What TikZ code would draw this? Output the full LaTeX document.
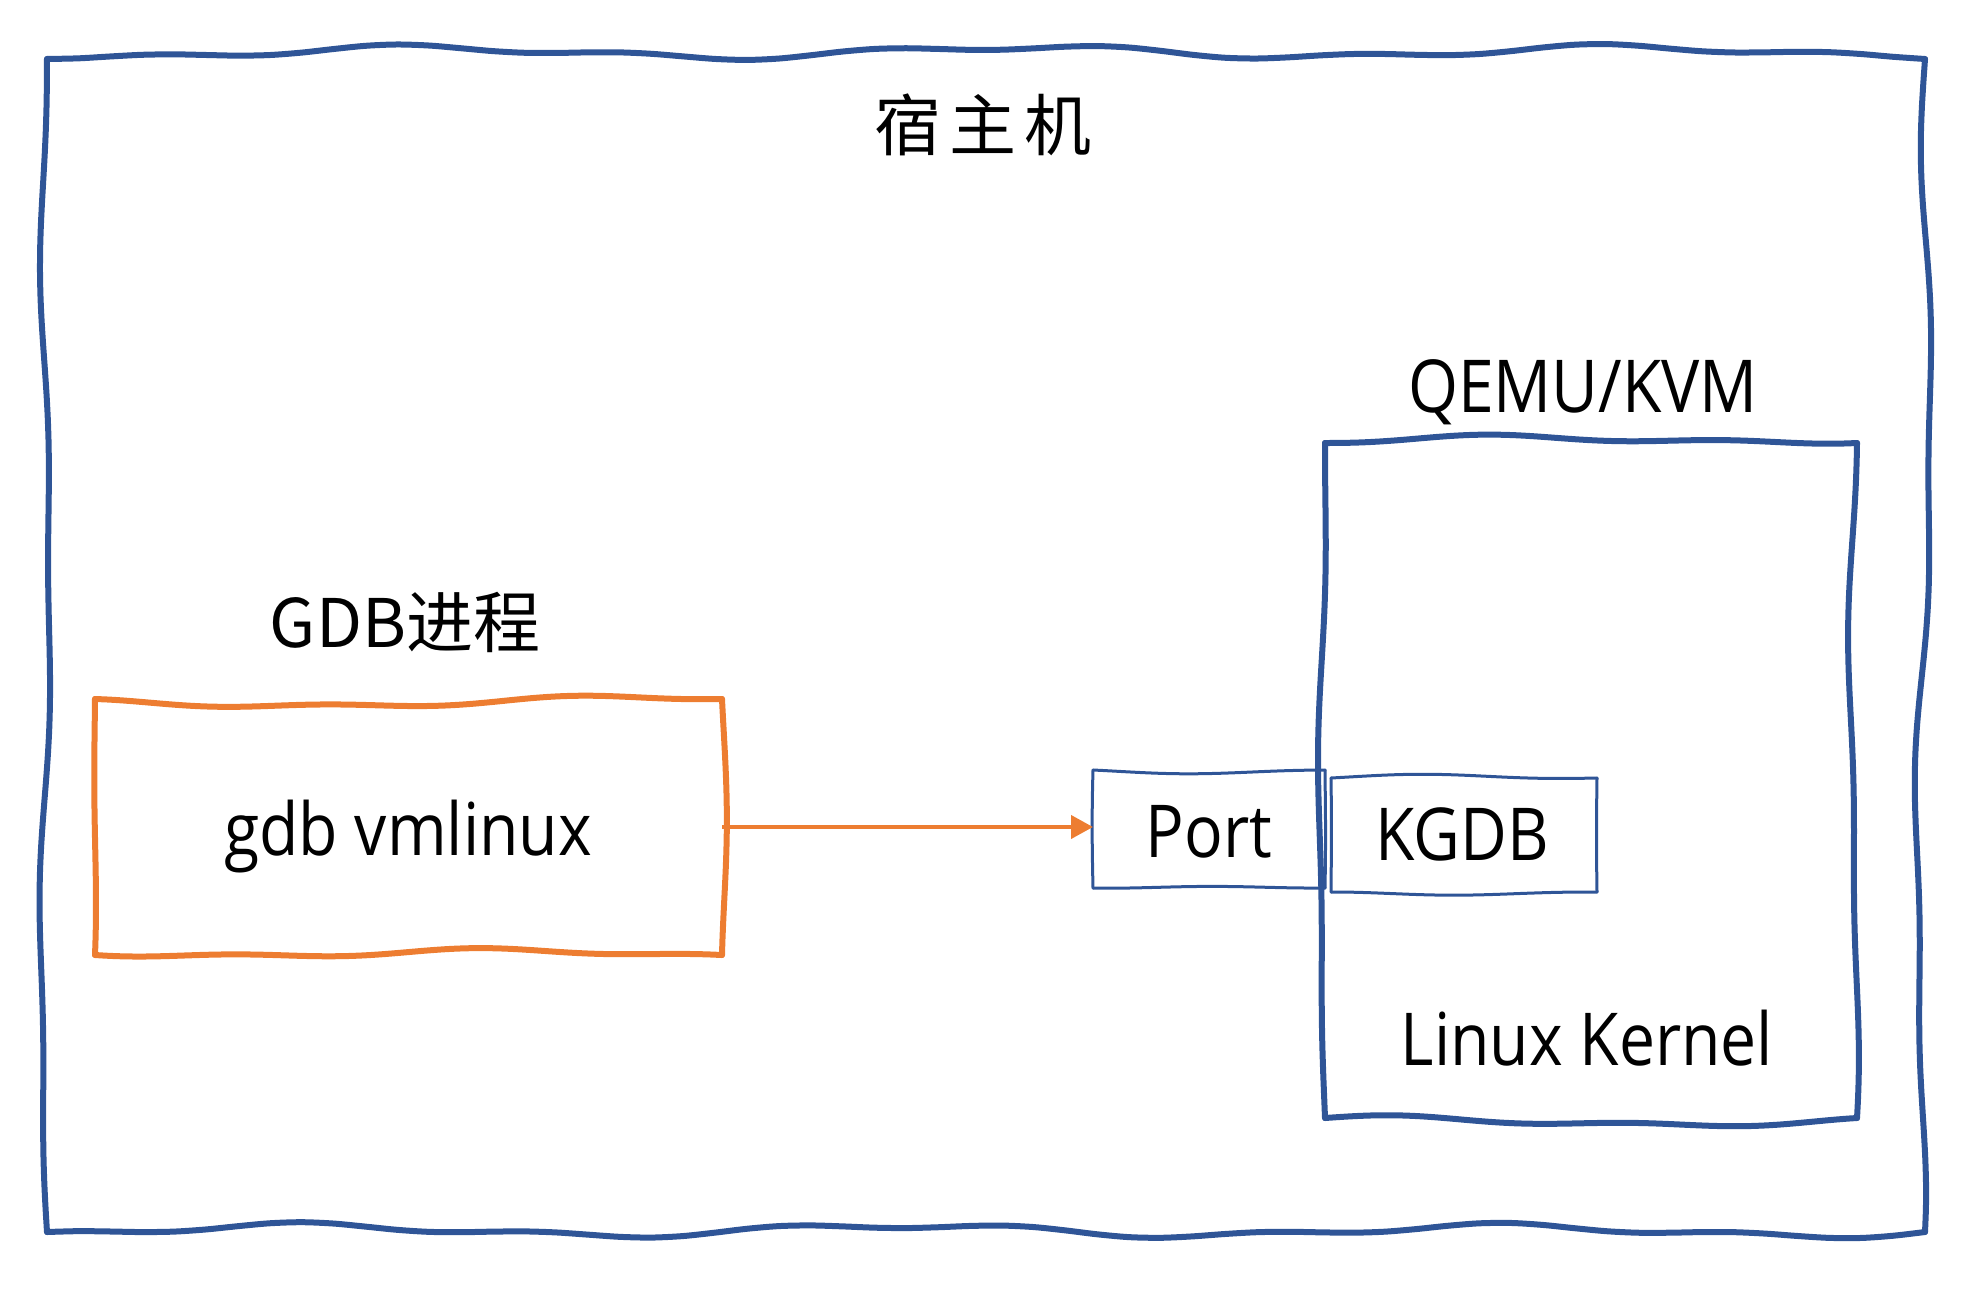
\documentclass[tikz,border=0pt]{standalone}
\usepackage{fontspec}
\setmainfont{Open Sans}[FakeStretch=0.88]
\newfontfamily\cjk{Noto Sans CJK SC}
\usetikzlibrary{calc,arrows.meta}
\definecolor{hblue}{HTML}{2F5597}
\definecolor{horange}{HTML}{ED7D31}
\tikzset{
  declare function={wv(\t,\p)=0.65*sin(\t*0.6+\p)+0.35*sin(\t*1.5+2*\p);
                    vv(\t,\p)=0.7*sin(\t*0.5+\p)+0.3*sin(\t*1.2+2*\p);},
  area/.style={rectangle, draw=none, inner sep=0pt, outer sep=0pt},
  bluethick/.style={draw=hblue, line width=6pt, line join=round, line cap=round},
  bluethin/.style={draw=hblue, line width=3pt, line join=round, line cap=round},
  orangethick/.style={draw=horange, line width=6pt, line join=round, line cap=round},
  lbl/.style={inner sep=0pt, anchor=base, font=\fontsize{73}{82}\selectfont},
  cjklbl/.style={inner sep=0pt, anchor=base, font=\cjk\fontsize{67}{76}\selectfont},
  link/.style={draw=horange, line width=4pt, -{Triangle[length=22pt,width=23pt]}},
}
% horizontal hand-drawn edge: style, x1, x2, y, amplitude, phase
\newcommand\hw[6]{%
 \draw[#1] plot[smooth, samples=60, domain=#2:#3, variable=\t]
  (\t, {#4 + #5*(wv(\t,#6) - wv(#2,#6)*(#3-\t)/(#3-#2) - wv(#3,#6)*(\t-#2)/(#3-#2))});}
% vertical hand-drawn edge: style, y1, y2, x, amplitude, phase
\newcommand\vw[6]{%
 \draw[#1] plot[smooth, samples=50, domain=#2:#3, variable=\t]
  ({#4 + #5*(vv(\t,#6) - vv(#2,#6)*(#3-\t)/(#3-#2) - vv(#3,#6)*(\t-#2)/(#3-#2))}, \t);}
% hand-drawn box: style, x1, y1, x2, y2, amplitude, phase
\newcommand\wbox[7]{%
 \hw{#1}{#2}{#4}{#3}{#6}{#7}
 \hw{#1}{#2}{#4}{#5}{#6}{#7+70}
 \vw{#1}{#3}{#5}{#2}{0.8*#6}{#7+130}
 \vw{#1}{#3}{#5}{#4}{#6}{#7+200}}
\begin{document}
\begin{tikzpicture}[x=1pt,y=-1pt]
\useasboundingbox (0,0) rectangle (1972,1298);
% named areas of the boxes
\node[area, minimum width=1878pt, minimum height=1173pt] (host) at (986,645.5) {};
\node[area, minimum width=532pt, minimum height=675pt] (qemu) at (1591,780.5) {};
\node[area, minimum width=627pt, minimum height=256pt] (gdb) at (408.5,827) {};
\node[area, minimum width=232pt, minimum height=118pt] (port) at (1209,829) {};
\node[area, minimum width=266pt, minimum height=114pt] (kgdb) at (1464,835) {};
% outlines
\wbox{bluethick}{47}{59}{1925}{1232}{8}{20}
\wbox{bluethin}{1093}{770}{1325}{888}{4}{60}
\wbox{bluethin}{1331}{778}{1597}{892}{4}{150}
\wbox{bluethick}{1325}{443}{1857}{1118}{6}{100}
\wbox{orangethick}{95}{699}{722}{955}{6}{250}
% labels
\node[cjklbl] (hostlbl) at (983,150) {宿\hspace{8pt}主\hspace{8pt}机};
\node[lbl] (qemulbl) at (1583,412) {QEMU/KVM};
\node[cjklbl] (gdblbl) at (405,647) {GDB进程};
\node[lbl] (gdbtxt) at (408,855) {gdb vmlinux};
\node[lbl] (porttxt) at (1209,857) {Port};
\node[lbl] (kgdbtxt) at (1462,860) {KGDB};
\node[lbl] (kerneltxt) at (1587,1065) {Linux Kernel};
% connector
\draw[link] (gdb.east) -- (gdb.east -| port.west);
\end{tikzpicture}
\end{document}
